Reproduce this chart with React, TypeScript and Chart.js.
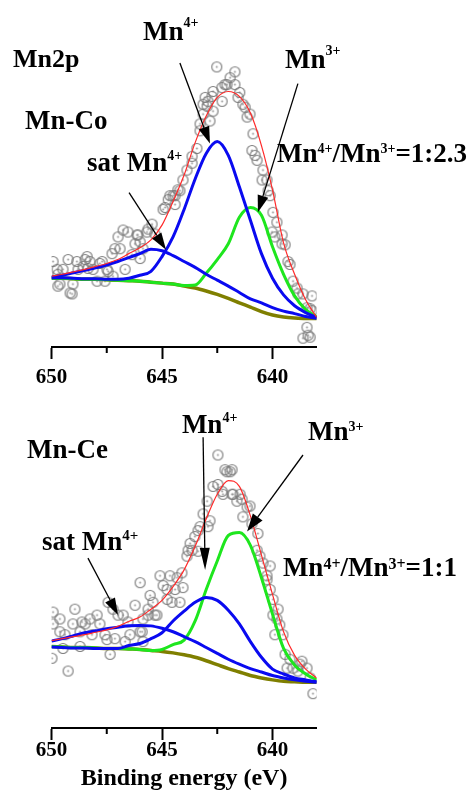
import React, { useEffect, useRef } from 'react';
import { Chart, registerables } from 'chart.js';

Chart.register(...registerables);

const FONT = '"Liberation Serif", "Times New Roman", serif';

// Binding energies (eV) at which the fitted curves were read
const energies = [650, 649.5, 649, 648.5, 648, 647.5, 647, 646.5, 646, 645.5, 645, 644.5, 644, 643.5, 643, 642.5, 642, 641.5, 641, 640.5, 640, 639.5, 639, 638.5, 638];
const xTicks = [650, 645, 640];
const xMinorTicks = [647.5, 642.5];

// ---- Mn-Co panel (intensity, a.u.) ----
const coBackground = [70, 70, 69.5, 69, 69, 68.5, 68, 67.5, 67, 66, 65, 64, 62, 60, 57, 53.5, 49.5, 45, 40.5, 36, 32.5, 30.5, 29.5, 29, 29];
const coSatMn4 = [71, 73, 75.5, 78, 80.5, 83.5, 87, 91, 95, 99.5, 98, 93, 87, 81, 74, 68, 62, 55.5, 49, 45, 40, 36.5, 34, 31, 29];
const coMn4 = [70.5, 70.5, 70, 69.5, 69.5, 69, 69, 70, 73, 77, 92, 112, 140, 171, 197, 209, 195, 163, 129, 95, 70, 53, 42, 35, 30];
const coMn3 = [70, 70, 69.5, 69, 69, 68.5, 68, 67.5, 67, 66, 65, 64, 62.5, 63, 75, 89, 105, 132, 142, 134, 102, 74, 52, 38, 31];
const coEnvelope = [72, 74, 76.5, 79, 82, 85, 89, 95, 101, 109, 124, 148, 175, 208, 235, 254, 260, 255, 238, 205, 160, 106, 74, 48, 30];
const coPointsE = [649.93, 649.75, 649.71, 649.71, 649.62, 649.48, 649.25, 649.16, 649.07, 649.03, 648.85, 648.80, 648.57, 648.48, 648.39, 648.35, 648.26, 648.12, 647.94, 647.81, 647.71, 647.58, 647.49, 647.44, 647.26, 647.22, 647.13, 646.99, 646.90, 646.76, 646.67, 646.54, 646.13, 645.99, 645.68, 645.45, 644.95, 644.72, 644.64, 644.41, 644.19, 644.05, 643.87, 643.64, 643.42, 643.28, 643.14, 642.92, 642.69, 642.52, 642.29, 642.06, 641.92, 641.70, 641.48, 641.34, 641.15, 640.88, 640.70, 640.43, 640.25, 640.11, 639.98, 639.80, 639.57, 639.43, 639.21, 639.07, 638.85, 638.62, 638.44, 638.21, 638.21, 638.62, 638.30,
  643.05, 642.74, 642.96, 642.69, 643.14, 642.83, 643.28, 643.64, 644.28, 644.50, 644.86, 644.41, 645.63, 646.09, 646.22, 645.86, 645.32, 646.36, 645.99, 641.70, 642.15, 642.28, 641.56, 641.24, 641.02, 640.93, 640.79, 640.47, 640.20, 640.02, 639.89, 639.57, 639.30, 638.89, 638.30, 638.44, 638.39];
const coPointsI = [87, 79, 74, 62, 64, 79, 89, 55, 54, 64, 87, 79, 82, 89, 92, 80, 87, 79, 67, 85, 87, 67, 79, 77, 95, 72, 100, 112, 100, 119, 79, 117, 114, 107, 117, 125, 140, 150, 154, 154, 159, 170, 180, 187, 202, 227, 247, 250, 260, 285, 264, 267, 274, 267, 259, 247, 234, 217, 190, 180, 170, 154, 137, 127, 114, 104, 84, 67, 54, 54, 40, 52, 37, 9, 10,
  254, 255, 245, 240, 237, 230, 220, 194, 160, 154, 142, 145, 120, 114, 105, 100, 115, 94, 90, 280, 267, 250, 254, 244, 237, 200, 195, 170, 159, 117, 112, 105, 87, 60, 39, 20, 12];

// ---- Mn-Ce panel (intensity, a.u.) ----
const ceBackground = [83, 82.5, 82, 82, 81.5, 81, 81, 80.5, 80, 79, 78, 76.5, 74.5, 72, 68.5, 64.5, 60.5, 57, 53.5, 51, 49, 47.5, 47, 46.5, 46.5];
const ceSatMn4 = [88.5, 91, 94, 97, 99, 101, 102.5, 104, 104.5, 104, 101.5, 98, 93, 88, 82, 76, 70, 65, 60.5, 57, 53.5, 51, 49, 47.5, 46.5];
const ceMn4 = [82.5, 82, 81.5, 81.5, 81, 81, 81, 84, 86, 91, 97, 109, 119, 128, 133, 130, 120, 106, 88, 72, 60, 55, 51, 49, 47];
const ceMn3 = [83, 82.5, 82, 82, 81.5, 81, 81, 80.5, 80, 79, 80, 85, 89.5, 109, 141, 170, 196, 199, 186, 153, 116, 81, 64, 55, 49];
const ceEnvelope = [89, 91, 93, 95, 97.5, 100, 103.5, 108.5, 113, 121, 130, 144, 161, 185, 213, 238, 252, 246, 216, 176, 136, 98, 74, 60, 51];
const cePointsE = [649.93, 649.62, 649.93, 649.98, 649.62, 649.39, 649.48, 649.25, 649.03, 648.94, 648.71, 648.71, 648.48, 648.26, 648.17, 647.94, 647.81, 647.58, 647.44, 647.35, 647.13, 646.99, 646.76, 646.54, 646.45, 646.22, 645.99, 645.86, 645.63, 645.54, 645.41, 645.23, 645.09, 644.95, 644.77, 644.64, 644.55, 644.41, 644.19, 644.10, 643.87, 643.82, 643.64, 643.51, 643.28, 643.14, 642.83, 642.96, 642.69, 642.47, 642.47, 642.24, 642.06, 641.92, 641.79, 641.61, 641.47, 641.15, 640.93, 640.70, 640.57, 640.43, 640.25, 640.11, 639.98, 639.80, 639.67, 639.53, 639.43, 639.34, 639.07, 638.76, 638.44, 638.30, 638.17,
  642.15, 642.28, 642.92, 643.37, 643.73, 643.37, 644.32, 644.05, 644.77, 645.32, 645.63, 645.90, 645.86, 641.83, 641.83, 641.38, 641.02, 641.34, 640.66, 640.11, 640.25, 639.75, 639.98, 639.89, 639.21, 638.67, 638.85, 648.62, 647.22, 646.67, 645.99, 647.49];
const cePointsI = [118, 111, 106, 71, 98, 95, 81, 58, 106, 121, 98, 83, 106, 111, 95, 115, 106, 95, 128, 75, 91, 115, 115, 108, 95, 125, 148, 111, 121, 135, 128, 115, 155, 145, 141, 155, 128, 141, 128, 158, 175, 181, 181, 195, 205, 218, 211, 231, 246, 248, 278, 238, 261, 261, 238, 231, 238, 225, 208, 181, 175, 168, 155, 141, 131, 111, 105, 95, 75, 61, 61, 65, 61, 51, 35,
  263, 241, 205, 201, 188, 180, 153, 143, 131, 115, 115, 98, 88, 263, 238, 233, 226, 215, 198, 165, 151, 121, 115, 95, 70, 68, 58, 108, 121, 88, 98, 90];

type Seg = { t: string; sup?: boolean };
type Label = { at: [number, number]; segs: Seg[]; size: number; supSize?: number; rise?: number };
type Arrow = { from: [number, number]; to: [number, number]; headLen: number; headWidth: number };

const annotPlugin = {
  id: 'annot',
  afterDraw(chart: any, _args: any, opts: any) {
    const { ctx } = chart;
    const x = chart.scales.x;
    const y = chart.scales.y;
    ctx.save();
    ctx.strokeStyle = '#000';
    ctx.fillStyle = '#000';
    // minor ticks
    ctx.lineWidth = 2;
    const base = chart.chartArea.bottom;
    (opts.minorTicks || []).forEach((v: number) => {
      const px = x.getPixelForValue(v);
      ctx.beginPath();
      ctx.moveTo(px, base);
      ctx.lineTo(px, base + opts.minorLen);
      ctx.stroke();
    });
    // arrows
    (opts.arrows || []).forEach((a: Arrow) => {
      const x1 = x.getPixelForValue(a.from[0]);
      const y1 = y.getPixelForValue(a.from[1]);
      const x2 = x.getPixelForValue(a.to[0]);
      const y2 = y.getPixelForValue(a.to[1]);
      const ang = Math.atan2(y2 - y1, x2 - x1);
      const bx = x2 - a.headLen * Math.cos(ang);
      const by = y2 - a.headLen * Math.sin(ang);
      ctx.lineWidth = 1.3;
      ctx.beginPath();
      ctx.moveTo(x1, y1);
      ctx.lineTo(bx, by);
      ctx.stroke();
      ctx.beginPath();
      ctx.moveTo(x2, y2);
      ctx.lineTo(bx + a.headWidth * Math.sin(ang), by - a.headWidth * Math.cos(ang));
      ctx.lineTo(bx - a.headWidth * Math.sin(ang), by + a.headWidth * Math.cos(ang));
      ctx.closePath();
      ctx.fill();
    });
    // labels
    ctx.textBaseline = 'alphabetic';
    ctx.textAlign = 'left';
    (opts.labels || []).forEach((l: Label) => {
      let px = x.getPixelForValue(l.at[0]);
      const py = y.getPixelForValue(l.at[1]);
      l.segs.forEach((s) => {
        ctx.font = `bold ${s.sup ? l.supSize : l.size}px ${FONT}`;
        ctx.fillText(s.t, px, s.sup ? py - (l.rise || 0) : py);
        px += ctx.measureText(s.t).width;
      });
    });
    ctx.restore();
  },
};

function makeCircleImage(): HTMLCanvasElement {
  const c = document.createElement('canvas');
  c.width = 13;
  c.height = 13;
  const g = c.getContext('2d')!;
  g.strokeStyle = '#7a7a7a';
  g.lineWidth = 1.1;
  g.beginPath();
  g.arc(6.5, 6.5, 5, 0, Math.PI * 2);
  g.stroke();
  g.fillStyle = '#8a8a8a';
  g.beginPath();
  g.arc(6.5, 6.5, 0.9, 0, Math.PI * 2);
  g.fill();
  return c;
}

type PanelProps = {
  background: number[];
  sat: number[];
  mn4: number[];
  mn3: number[];
  envelope: number[];
  pointsE: number[];
  pointsI: number[];
  yMax: number;
  axisHeight: number;
  tickPadding: number;
  title?: string;
  labels: Label[];
  arrows: Arrow[];
};

function curve(vals: number[], color: string, width: number, order: number) {
  return {
    type: 'line',
    data: energies.map((e, i) => ({ x: e, y: vals[i] })).sort((a, b) => a.x - b.x),
    borderColor: color,
    backgroundColor: color,
    borderWidth: width,
    pointRadius: 0,
    fill: false,
    cubicInterpolationMode: 'monotone',
    order,
  };
}

function Panel(props: PanelProps) {
  const ref = useRef<HTMLCanvasElement>(null);
  useEffect(() => {
    if (!ref.current) return;
    const img = makeCircleImage();
    const chart = new Chart(ref.current, {
      type: 'line',
      data: {
        datasets: [
          {
            type: 'line',
            data: props.pointsE.map((e, i) => ({ x: e, y: props.pointsI[i] })),
            showLine: false,
            pointStyle: img,
            pointRadius: 5,
            order: 10,
          } as any,
          curve(props.background, '#7f7f00', 3.5, 5) as any,
          curve(props.mn3, '#1ee61e', 3, 4) as any,
          curve(props.sat, '#0a0af0', 3, 3) as any,
          curve(props.mn4, '#0a0af0', 3, 2) as any,
          curve(props.envelope, '#ff2a2a', 1.2, 1) as any,
        ],
      },
      options: {
        responsive: false,
        animation: false,
        events: [],
        layout: { padding: { left: 51.5, right: 152.3, top: 0, bottom: 0 } },
        scales: {
          x: {
            type: 'linear',
            min: 638,
            max: 650,
            reverse: true,
            afterBuildTicks: (s: any) => {
              s.ticks = xTicks.map((v) => ({ value: v }));
            },
            afterFit: (s: any) => {
              s.height = props.axisHeight;
            },
            grid: {
              display: true,
              drawOnChartArea: false,
              drawTicks: true,
              tickLength: 12,
              tickColor: '#000',
              tickWidth: 2,
            },
            border: { display: true, color: '#000', width: 2 },
            ticks: {
              color: '#000',
              font: { family: FONT, size: 21, weight: 'bold' },
              padding: props.tickPadding,
              maxRotation: 0,
              autoSkip: false,
            },
            title: {
              display: !!props.title,
              text: props.title || '',
              color: '#000',
              font: { family: FONT, size: 24, weight: 'bold' },
              padding: { top: 0, bottom: 0.5 },
            },
          },
          y: { display: false, min: 0, max: props.yMax },
        },
        plugins: {
          legend: { display: false },
          tooltip: { enabled: false },
          annot: {
            minorTicks: xMinorTicks,
            minorLen: 6,
            labels: props.labels,
            arrows: props.arrows,
          },
        } as any,
      },
      plugins: [annotPlugin],
    } as any);
    return () => chart.destroy();
  }, []);
  return <canvas ref={ref} width={469} height={400} />;
}

const coLabels: Label[] = [
  { at: [651.74, 285], segs: [{ t: 'Mn2p' }], size: 26 },
  { at: [651.2, 222], segs: [{ t: 'Mn-Co' }], size: 27 },
  { at: [645.86, 312], segs: [{ t: 'Mn' }, { t: '4+', sup: true }], size: 27, supSize: 14, rise: 13 },
  { at: [639.43, 284], segs: [{ t: 'Mn' }, { t: '3+', sup: true }], size: 27, supSize: 14, rise: 13 },
  { at: [648.39, 179], segs: [{ t: 'sat Mn' }, { t: '4+', sup: true }], size: 27, supSize: 14, rise: 11 },
  { at: [639.8, 188], segs: [{ t: 'Mn' }, { t: '4+', sup: true }, { t: '/Mn' }, { t: '3+', sup: true }, { t: '=1:2.3' }], size: 27, supSize: 14, rise: 9 },
];
const coArrows: Arrow[] = [
  { from: [644.19, 289], to: [642.83, 207], headLen: 17, headWidth: 5.5 },
  { from: [638.85, 268], to: [640.66, 137], headLen: 17, headWidth: 5.5 },
  { from: [646.49, 157], to: [644.82, 99], headLen: 17, headWidth: 5.5 },
];
const ceLabels: Label[] = [
  { at: [651.11, 275], segs: [{ t: 'Mn-Ce' }], size: 27 },
  { at: [644.1, 300], segs: [{ t: 'Mn' }, { t: '4+', sup: true }], size: 27, supSize: 14, rise: 11 },
  { at: [638.39, 293], segs: [{ t: 'Mn' }, { t: '3+', sup: true }], size: 27, supSize: 14, rise: 9 },
  { at: [650.43, 181], segs: [{ t: 'sat Mn' }, { t: '4+', sup: true }], size: 27, supSize: 15, rise: 10 },
  { at: [639.53, 155], segs: [{ t: 'Mn' }, { t: '4+', sup: true }, { t: '/Mn' }, { t: '3+', sup: true }, { t: '=1:1' }], size: 27, supSize: 16, rise: 7 },
];
const ceArrows: Arrow[] = [
  { from: [643.14, 296], to: [643.05, 161], headLen: 22, headWidth: 5 },
  { from: [638.62, 278], to: [641.15, 200], headLen: 18, headWidth: 6 },
  { from: [648.35, 173], to: [646.99, 115], headLen: 17, headWidth: 5.5 },
];

export default function App() {
  return (
    <div>
      <div style={{ position: 'fixed', left: 0, top: 0, width: 469, height: 400 }}>
        <Panel
          background={coBackground}
          sat={coSatMn4}
          mn4={coMn4}
          mn3={coMn3}
          envelope={coEnvelope}
          pointsE={coPointsE}
          pointsI={coPointsI}
          yMax={347}
          axisHeight={53}
          tickPadding={6.4}
          labels={coLabels}
          arrows={coArrows}
        />
      </div>
      <div style={{ position: 'fixed', left: 0, top: 394, width: 469, height: 400 }}>
        <Panel
          background={ceBackground}
          sat={ceSatMn4}
          mn4={ceMn4}
          mn3={ceMn3}
          envelope={ceEnvelope}
          pointsE={cePointsE}
          pointsI={cePointsI}
          yMax={334}
          axisHeight={66}
          tickPadding={-2}
          title="Binding energy (eV)"
          labels={ceLabels}
          arrows={ceArrows}
        />
      </div>
    </div>
  );
}
